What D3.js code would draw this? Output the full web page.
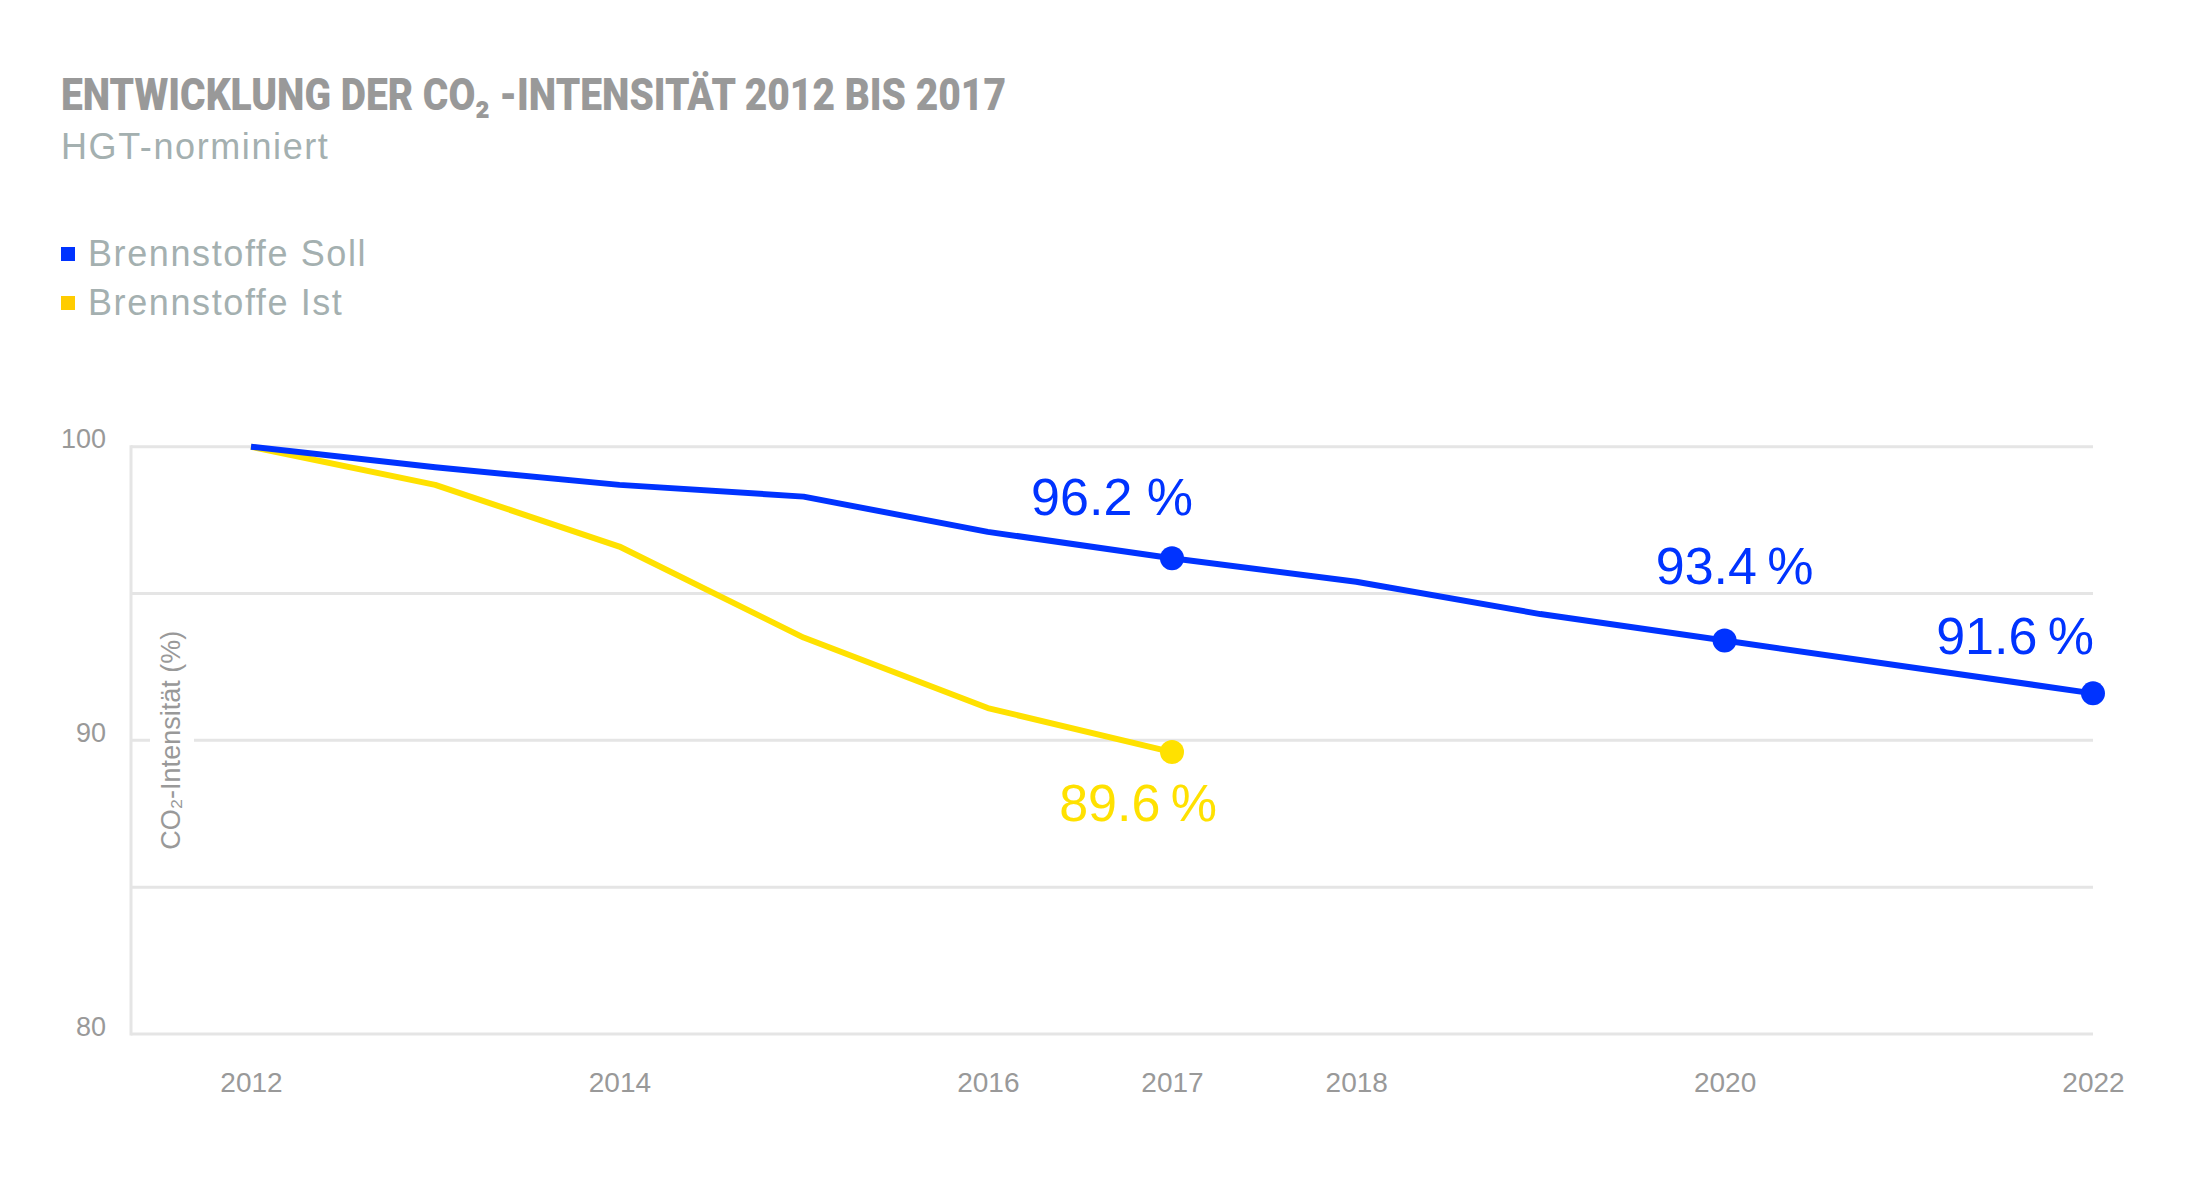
<!DOCTYPE html>
<html>
<head>
<meta charset="utf-8">
<script src="https://cdn.jsdelivr.net/npm/d3@7"></script>
<style>
  body { margin: 0; background: #fff; }
  svg { display: block; }
</style>
</head>
<body>
<svg width="2185" height="1199"></svg>
<script>
var svg = d3.select("svg"),
    width = +svg.attr("width"),
    height = +svg.attr("height");

// data
var years = [2012, 2013, 2014, 2015, 2016, 2017, 2018, 2019, 2020, 2021, 2022];
var sollValues = [100, 99.3, 98.7, 98.3, 97.1, 96.2, 95.4, 94.3, 93.4, 92.5, 91.6];
var istYears = [2012, 2013, 2014, 2015, 2016, 2017];
var istValues = [100, 98.7, 96.6, 93.5, 91.1, 89.6];
var sollMarked = [2017, 2020, 2022];
var istMarked = [2017];
var xTicks = [2012, 2014, 2016, 2017, 2018, 2020, 2022];
var yTicks = [80, 90, 100];
var gridValues = [80, 85, 90, 95, 100];
var legendNames = ["Brennstoffe Soll", "Brennstoffe Ist"];

var blue = "#0033ff",
    yellow = "#ffe100",
    grey = "#999999",
    teal = "#a4b0b0",
    gridColor = "#e5e5e5";

var x = d3.scaleLinear().domain([2012, 2022]).range([251, 2093]);
var y = d3.scaleLinear().domain([80, 100]).range([1034, 446.7]);
var left = 131;

svg.append("rect").attr("width", width).attr("height", height).attr("fill", "#fff");

// title
svg.append("text")
    .attr("x", 61).attr("y", 110)
    .attr("fill", grey)
    .style("font-family", "Roboto, 'Liberation Sans', sans-serif")
    .style("font-weight", 900)
    .style("font-size", "45px")
    .attr("textLength", 945)
    .attr("lengthAdjust", "spacingAndGlyphs")
    .text("ENTWICKLUNG DER CO\u2082 -INTENSITÄT 2012 BIS 2017");

svg.append("text")
    .attr("x", 61).attr("y", 159)
    .attr("fill", teal)
    .style("font-family", "'Liberation Sans', Arial, sans-serif")
    .style("font-size", "36px")
    .style("letter-spacing", "1.6px")
    .text("HGT-norminiert");

// legend
var legend = svg.selectAll(".legend")
    .data(legendNames)
    .enter().append("g")
    .attr("class", "legend")
    .attr("transform", function (d, i) { return "translate(61," + (266 + i * 49) + ")"; });
legend.append("rect")
    .attr("y", -19).attr("width", 14).attr("height", 14)
    .attr("fill", function (d, i) { return i === 0 ? blue : "#ffcc00"; });
legend.append("text")
    .attr("x", 27)
    .attr("fill", teal)
    .style("font-family", "'Liberation Sans', Arial, sans-serif")
    .style("font-size", "36px")
    .style("letter-spacing", "1.6px")
    .text(function (d) { return d; });

// grid
svg.selectAll(".grid")
    .data(gridValues)
    .enter().append("line")
    .attr("class", "grid")
    .attr("x1", left).attr("x2", x(2022))
    .attr("y1", function (d) { return y(d); })
    .attr("y2", function (d) { return y(d); })
    .attr("stroke", gridColor)
    .attr("stroke-width", 3);
svg.append("line")
    .attr("x1", left).attr("x2", left)
    .attr("y1", y(100) - 1.5).attr("y2", y(80) + 1.5)
    .attr("stroke", gridColor)
    .attr("stroke-width", 3);

// axes
var yAxis = svg.append("g")
    .attr("transform", "translate(" + left + ",0)")
    .call(d3.axisLeft(y).tickValues(yTicks).tickSize(0).tickPadding(25));
yAxis.select(".domain").remove();
yAxis.selectAll("text")
    .attr("dy", 1)
    .attr("fill", grey)
    .style("font-family", "'Liberation Sans', Arial, sans-serif")
    .style("font-size", "27px");

var xAxis = svg.append("g")
    .attr("transform", "translate(0," + y(80) + ")")
    .call(d3.axisBottom(x).tickValues(xTicks).tickSize(0).tickFormat(d3.format("d")));
xAxis.select(".domain").remove();
xAxis.selectAll("text")
    .attr("y", 58).attr("dy", 0)
    .attr("fill", grey)
    .style("font-family", "'Liberation Sans', Arial, sans-serif")
    .style("font-size", "28px");

// y axis title with white backing over the grid
var yTitleG = svg.append("g").attr("transform", "translate(180," + y(90) + ") rotate(-90)");
var yTitleBg = yTitleG.append("rect").attr("fill", "#fff");
var yTitle = yTitleG.append("text")
    .attr("text-anchor", "middle")
    .attr("fill", grey)
    .style("font-family", "'Liberation Sans', Arial, sans-serif")
    .style("font-size", "27px")
    .text("CO\u2082-Intensität (%)");
var bb = yTitle.node().getBBox();
yTitleBg.attr("x", bb.x - 4).attr("y", bb.y - 6).attr("width", bb.width + 8).attr("height", bb.height + 14);

// lines
var line = d3.line()
    .x(function (d) { return x(d[0]); })
    .y(function (d) { return y(d[1]); });

var sollData = d3.zip(years, sollValues);
var istData = d3.zip(istYears, istValues);

svg.append("path")
    .datum(istData)
    .attr("d", line)
    .attr("fill", "none")
    .attr("stroke", yellow)
    .attr("stroke-width", 6)
    .attr("stroke-linejoin", "round");

svg.append("path")
    .datum(sollData)
    .attr("d", line)
    .attr("fill", "none")
    .attr("stroke", blue)
    .attr("stroke-width", 6)
    .attr("stroke-linejoin", "round");

// marked points and value labels
var labelOffsets = {
    "soll2017": { dx: 21, dy: -43, sep: " " },
    "soll2020": { dx: 89, dy: -57, sep: "\u2009" },
    "soll2022": { dx: 1, dy: -39, sep: "\u2009" },
    "ist2017": { dx: 45, dy: 69, sep: "\u2009" }
};

function markPoints(data, marked, color, key) {
    var pts = data.filter(function (d) { return marked.indexOf(d[0]) >= 0; });
    svg.selectAll(".pt-" + key)
        .data(pts)
        .enter().append("circle")
        .attr("class", "pt-" + key)
        .attr("cx", function (d) { return x(d[0]); })
        .attr("cy", function (d) { return y(d[1]); })
        .attr("r", 12)
        .attr("fill", color);
    svg.selectAll(".lbl-" + key)
        .data(pts)
        .enter().append("text")
        .attr("class", "lbl-" + key)
        .attr("x", function (d) { return x(d[0]) + labelOffsets[key + d[0]].dx; })
        .attr("y", function (d) { return y(d[1]) + labelOffsets[key + d[0]].dy; })
        .attr("text-anchor", "end")
        .attr("fill", color)
        .style("font-family", "'Liberation Sans', Arial, sans-serif")
        .style("font-size", "52px")
        .text(function (d) { return d3.format(".1f")(d[1]) + labelOffsets[key + d[0]].sep + "%"; });
}

markPoints(istData, istMarked, yellow, "ist");
markPoints(sollData, sollMarked, blue, "soll");
</script>
</body>
</html>
